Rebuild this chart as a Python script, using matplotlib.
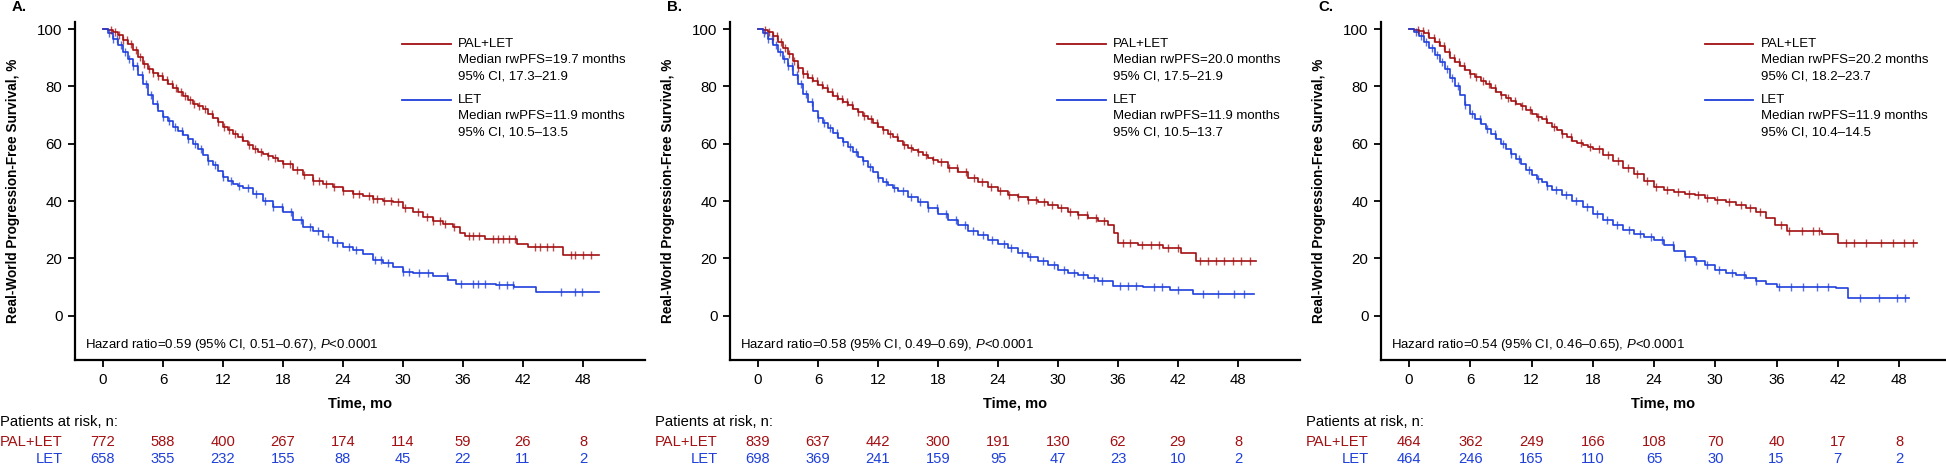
import numpy as np
import matplotlib
matplotlib.use("Agg")
import matplotlib.pyplot as plt
from matplotlib.transforms import blended_transform_factory

plt.rcParams['font.family'] = ['Liberation Sans', 'DejaVu Sans']
plt.rcParams['mathtext.fontset'] = 'custom'
plt.rcParams['mathtext.rm'] = 'Liberation Sans'
plt.rcParams['mathtext.it'] = 'Liberation Sans:italic'

RED = '#A30F12'
BLUE = '#1F3FDB'

risk_times = [0, 6, 12, 18, 24, 30, 36, 42, 48]
panel_labels = ['A.', 'B.', 'C.']

# ---- panel A ----
a_pal_t = [0, 0.5, 1, 1.5, 2, 2.5, 3, 3.5, 4, 4.5, 5, 5.5, 6, 6.5, 7, 7.5, 8, 8.5, 9, 9.5, 10, 10.5, 11,
           11.5, 12, 12.5, 13, 13.5, 14, 14.5, 15, 15.5, 16, 16.5, 17, 17.5, 18, 19, 20, 21, 22, 23, 24,
           25, 26, 27, 28, 29, 30, 31, 32, 33, 34, 35, 35.7, 36.2, 38.2, 41.4, 42.5, 46.0, 49.6]
a_pal_s = [100, 99.8, 99, 97.8, 96.3, 94.8, 92.8, 90.3, 87.8, 86, 84.8, 83.6, 82.4, 81, 79.5, 78, 76.6,
           75.2, 74, 73, 72, 70.5, 69, 67.5, 66, 64.8, 63.5, 62.2, 61, 59.5, 58, 57, 56.5, 55.7, 55, 54,
           53, 51, 49, 47, 46, 44.8, 43.5, 42.5, 41.8, 40.8, 40, 39.5, 37.7, 36, 34.5, 33.2, 32, 31, 29,
           27.8, 26.7, 25, 23.8, 21.2, 21.2]
a_pal_c = [0.8, 1.2, 1.6, 2.0, 2.4, 2.8, 3.3, 3.7, 4.1, 4.6, 5.0, 5.5, 5.9, 6.4, 6.9, 7.3, 7.8, 8.2, 8.7,
           9.1, 9.6, 10.2, 10.9, 11.5, 12.1, 12.6, 13.2, 13.9, 14.6, 15.2, 15.8, 16.5, 17.2, 18.0, 18.7,
           19.4, 20.1, 21.0, 21.6, 22.3, 23.1, 24.0, 25.0, 25.6, 26.6, 27.0, 27.4, 28.1, 28.8, 29.5, 30.2,
           31.5, 32.4, 33.0, 33.7, 34.2, 35.1, 36.6, 37.0, 37.6, 39.0, 39.5, 40.0, 40.6, 41.2, 43.2, 43.7,
           44.4, 45.0, 46.8, 47.2, 48.0, 48.8]
a_let_t = [0, 0.5, 1, 1.5, 2, 2.5, 3, 3.5, 4, 4.5, 5, 5.5, 6, 6.5, 7, 7.5, 8, 8.5, 9, 9.5, 10, 10.5, 11,
           11.5, 12, 12.5, 13, 13.5, 14, 15, 16, 17, 18, 19, 20, 21, 22, 23, 24, 25, 26, 27, 28, 29, 30,
           31, 33, 34.5, 35.3, 39.3, 41.1, 43.3, 49.6]
a_let_s = [100, 98.5, 96.5, 94.5, 92, 89.5, 87, 84, 81, 77, 74, 71.5, 69.5, 67.8, 66, 64.5, 63, 61.5, 60,
           58, 56, 54, 52.5, 50.5, 48.5, 47, 46, 45.2, 44.5, 42.5, 40, 38, 36, 33.5, 31, 29.5, 27.5, 25.5,
           24, 23, 21.5, 19.5, 18.5, 17, 15.2, 14.8, 13.9, 12.5, 11, 10.7, 10, 8.1, 8.1]
a_let_c = [0.6, 1.0, 1.4, 1.8, 2.2, 2.6, 3.0, 3.4, 3.9, 4.3, 4.8, 5.4, 6.0, 6.6, 7.2, 7.9, 8.5, 9.2, 9.8,
           10.5, 11.2, 12.0, 12.8, 13.6, 14.5, 15.3, 16.2, 17.0, 17.9, 18.8, 19.8, 20.7, 21.5, 22.5, 23.4,
           24.6, 25.3, 27.2, 27.8, 28.5, 30.0, 30.6, 31.6, 32.5, 34.4, 35.8, 37.0, 37.5, 38.2, 39.6, 40.4,
           41.0, 45.8, 47.2, 47.9]
a_risk_pal = [772, 588, 400, 267, 174, 114, 59, 26, 8]
a_risk_let = [658, 355, 232, 155, 88, 45, 22, 11, 2]
a_legend = ['PAL+LET', 'Median rwPFS=19.7 months', '95% CI, 17.3\u201321.9',
            'LET', 'Median rwPFS=11.9 months', '95% CI, 10.5\u201313.5']
a_hr = 'Hazard ratio=0.59 (95% CI, 0.51\u20130.67), $P$<0.0001'

# ---- panel B ----
b_pal_t = [0, 0.5, 1, 1.5, 2, 2.5, 3, 3.5, 4, 4.5, 5, 5.5, 6, 6.5, 7, 7.5, 8, 8.5, 9, 9.5, 10, 10.5, 11,
           11.5, 12, 12.5, 13, 13.5, 14, 14.5, 15, 15.5, 16, 16.5, 17, 17.5, 18, 19, 20, 21, 22, 23, 24,
           25, 26, 27, 28, 29, 30, 31, 32, 33, 34, 35, 35.6, 36.0, 38.0, 40.5, 42.3, 43.8, 49.8]
b_pal_s = [100, 99.7, 99, 97.5, 95.5, 93.5, 91.5, 89, 86.5, 84.5, 83, 81.8, 80.5, 79.3, 78, 76.8, 75.5,
           74.5, 73.5, 72.3, 71, 69.8, 68.5, 67.2, 66, 64.8, 63.5, 62.2, 61, 59.7, 58.5, 57.8, 57, 56, 55,
           54.2, 53.5, 51.5, 50, 48, 46.5, 45, 43.5, 42, 41.5, 40.5, 39.5, 38.5, 37.5, 36, 35, 34, 33,
           31.5, 29, 25.5, 24.5, 23.5, 22, 19, 19]
b_pal_c = [0.7, 1.1, 1.5, 1.9, 2.3, 2.7, 3.1, 3.6, 4.0, 4.5, 4.9, 5.4, 5.9, 6.4, 6.9, 7.4, 7.9, 8.4, 8.9,
           9.4, 10.0, 10.6, 11.3, 11.9, 12.5, 13.2, 13.9, 14.6, 15.3, 16.0, 16.8, 17.5, 18.3, 19.1, 19.9,
           20.8, 21.6, 22.4, 23.3, 24.2, 25.1, 26.0, 27.0, 27.8, 28.6, 29.4, 30.3, 31.2, 32.0, 32.9, 33.8,
           34.6, 36.5, 37.2, 38.4, 39.3, 40.1, 41.0, 42.0, 44.2, 45.0, 45.8, 46.6, 47.5, 48.3, 49.2]
b_let_t = [0, 0.5, 1, 1.5, 2, 2.5, 3, 3.5, 4, 4.5, 5, 5.5, 6, 6.5, 7, 7.5, 8, 8.5, 9, 9.5, 10, 10.5, 11,
           11.5, 12, 12.5, 13, 13.5, 14, 15, 16, 17, 18, 19, 20, 21, 22, 23, 24, 25, 26, 27, 28, 29, 30,
           31, 32, 33, 34, 35.5, 38.5, 41.2, 43.5, 49.6]
b_let_s = [100, 98.5, 96.5, 94.5, 92, 89.5, 87, 84, 81, 77.5, 74.5, 71.5, 69, 67.2, 65.5, 63.8, 62, 60.5,
           59, 57.2, 55.5, 53.8, 52, 50, 48, 46.7, 45.5, 44.5, 43.5, 41.5, 39.5, 37.5, 35.5, 33.5, 31.5,
           29.5, 28, 26.5, 25, 23.5, 22, 20.5, 19, 17.5, 16, 15, 14, 13, 12, 10.5, 10, 9, 7.5, 7.5]
b_let_c = [0.6, 1.0, 1.4, 1.8, 2.2, 2.6, 3.0, 3.4, 3.9, 4.3, 4.8, 5.4, 6.0, 6.6, 7.2, 7.9, 8.5, 9.2, 9.8,
           10.5, 11.2, 12.0, 12.8, 13.6, 14.5, 15.3, 16.2, 17.0, 17.9, 18.8, 19.8, 20.7, 21.5, 22.5, 23.4,
           24.6, 25.3, 26.4, 27.2, 28.5, 29.6, 30.6, 31.6, 32.5, 33.6, 34.4, 36.2, 37.0, 37.8, 39.6, 40.4,
           42.0, 44.5, 46.0, 47.6, 48.6]
b_risk_pal = [839, 637, 442, 300, 191, 130, 62, 29, 8]
b_risk_let = [698, 369, 241, 159, 95, 47, 23, 10, 2]
b_legend = ['PAL+LET', 'Median rwPFS=20.0 months', '95% CI, 17.5\u201321.9',
            'LET', 'Median rwPFS=11.9 months', '95% CI, 10.5\u201313.7']
b_hr = 'Hazard ratio=0.58 (95% CI, 0.49\u20130.69), $P$<0.0001'

# ---- panel C ----
c_pal_t = [0, 0.5, 1, 1.5, 2, 2.5, 3, 3.5, 4, 4.5, 5, 5.5, 6, 6.5, 7, 7.5, 8, 8.5, 9, 9.5, 10, 10.5, 11,
           11.5, 12, 12.5, 13, 13.5, 14, 14.5, 15, 15.5, 16, 16.5, 17, 17.5, 18, 19, 20, 21, 22, 23, 24,
           25, 26, 27, 28, 29, 30, 31, 32, 33, 34, 35, 35.8, 37.0, 40.5, 42.0, 49.8]
c_pal_s = [100, 99.8, 99.5, 98.5, 97, 95.5, 94, 92, 90, 88.5, 87, 85.8, 84.5, 83.2, 82, 80.8, 79.5, 78.2,
           77, 76, 75, 74, 73, 71.8, 70.5, 69.5, 68.5, 67.2, 66, 64.8, 63.5, 62.2, 61, 60.2, 59.5, 58.8,
           58, 56, 54, 51.5, 49.5, 47, 45, 44, 43, 42.5, 42, 41, 40.5, 39.5, 38.5, 37.5, 36, 34, 31.5,
           29.5, 28.5, 25.5, 25.5]
c_pal_c = [0.9, 1.4, 1.9, 2.4, 2.9, 3.4, 3.9, 4.4, 4.9, 5.4, 6.0, 6.6, 7.2, 7.8, 8.4, 9.0, 9.7, 10.4, 11.1,
           11.8, 12.6, 13.4, 14.2, 15.0, 15.9, 16.8, 17.7, 18.6, 19.5, 20.5, 21.4, 22.3, 23.3, 24.2, 25.3,
           26.3, 27.4, 28.3, 29.2, 30.2, 31.3, 32.5, 33.4, 34.4, 36.4, 37.2, 38.5, 39.6, 40.2, 42.8, 43.6,
           44.8, 46.2, 47.4, 48.5, 49.4]
c_let_t = [0, 0.5, 1, 1.5, 2, 2.5, 3, 3.5, 4, 4.5, 5, 5.5, 6, 6.5, 7, 7.5, 8, 8.5, 9, 9.5, 10, 10.5, 11,
           11.5, 12, 12.5, 13, 13.5, 14, 15, 16, 17, 18, 19, 20, 21, 22, 23, 24, 25, 26, 27, 28, 29, 30,
           31, 32, 33, 34, 35, 36, 41.8, 43.0, 49.0]
c_let_s = [100, 99, 97.5, 95.5, 93.5, 91, 88.5, 86, 83, 80, 77, 73.5, 70.5, 68.8, 67, 65.2, 63.5, 61.8,
           60, 58.2, 56.5, 54.8, 53, 51, 49, 47.8, 46.5, 45.2, 44, 42, 40, 38, 35.5, 33.5, 31.5, 30, 28.5,
           27.5, 26.5, 24.5, 22.5, 20.5, 19, 17.5, 16, 15, 14, 13, 12, 11, 10, 9.8, 6, 6]
c_let_c = [0.7, 1.2, 1.7, 2.2, 2.7, 3.2, 3.7, 4.2, 4.8, 5.5, 6.2, 6.9, 7.6, 8.4, 9.2, 10.0, 10.8, 11.7,
           12.6, 13.5, 14.4, 15.4, 16.4, 17.4, 18.4, 19.4, 20.4, 21.5, 22.6, 23.7, 24.8, 25.9, 27.0, 28.1,
           29.2, 30.4, 31.6, 32.8, 34.0, 36.2, 37.4, 38.6, 40.0, 41.0, 44.2, 46.0, 47.8, 48.6]
c_risk_pal = [464, 362, 249, 166, 108, 70, 40, 17, 8]
c_risk_let = [464, 246, 165, 110, 65, 30, 15, 7, 2]
c_legend = ['PAL+LET', 'Median rwPFS=20.2 months', '95% CI, 18.2\u201323.7',
            'LET', 'Median rwPFS=11.9 months', '95% CI, 10.4\u201314.5']
c_hr = 'Hazard ratio=0.54 (95% CI, 0.46\u20130.65), $P$<0.0001'

panels = [
    (a_pal_t, a_pal_s, a_pal_c, a_let_t, a_let_s, a_let_c, a_risk_pal, a_risk_let, a_legend, a_hr),
    (b_pal_t, b_pal_s, b_pal_c, b_let_t, b_let_s, b_let_c, b_risk_pal, b_risk_let, b_legend, b_hr),
    (c_pal_t, c_pal_s, c_pal_c, c_let_t, c_let_s, c_let_c, c_risk_pal, c_risk_let, c_legend, c_hr),
]

W, H = 1946, 465
fig = plt.figure(figsize=(W / 100, H / 100), dpi=100)

# axes boxes in pixels: left, right, xlim
boxes = [(75, 645, (-2.8, 54.2)), (730, 1300, (-2.8, 54.2)), (1381, 1946, (-2.75, 52.6))]
top_px, bot_px = 22, 360


def km(ax, t, s, cens, color):
    t = np.asarray(t)
    s = np.asarray(s)
    ax.step(t, s, where='post', color=color, lw=1.2, zorder=3)
    c = np.asarray(cens)
    idx = np.searchsorted(t, c, side='right') - 1
    ax.plot(c, s[idx], ls='none', marker='|', ms=6, mew=1.0, color=color, alpha=0.75, zorder=4)


for i, (pt, ps, pc, lt, ls_, lc, rp, rl, leg, hr) in enumerate(panels):
    left, right, xl = boxes[i]
    ax = fig.add_axes([left / W, 1 - bot_px / H, (right - left) / W, (bot_px - top_px) / H])
    km(ax, pt, ps, pc, RED)
    km(ax, lt, ls_, lc, BLUE)
    ax.set_xlim(*xl)
    ax.set_ylim(-15.5, 102.5)
    ax.set_xticks(risk_times)
    ax.set_yticks([0, 20, 40, 60, 80, 100])
    for sp in ['top', 'right']:
        ax.spines[sp].set_visible(False)
    for sp in ['left', 'bottom']:
        ax.spines[sp].set_linewidth(1.6)
    ax.tick_params(width=1.3, length=5, labelsize=10.8, pad=4)
    ax.set_ylabel('Real-World Progression-Free Survival, %', fontsize=9.8, fontweight='bold')
    ax.yaxis.set_label_coords((20 - 75) / 570, 0.5)

    # legend block
    for k, (col, yy) in enumerate([(RED, 0.935), (BLUE, 0.769)]):
        ax.plot([0.573, 0.659], [yy, yy], color=col, lw=1.3, transform=ax.transAxes)
        for j in range(3):
            ax.text(0.672, yy - j * 0.048, leg[3 * k + j], transform=ax.transAxes,
                    fontsize=9.5, va='center', ha='left')

    ax.text(0.018, 0.045, hr, transform=ax.transAxes, fontsize=9.5, va='center', ha='left')

    cx = (left + right) / 2
    fig.text(cx / W, 1 - 404 / H, 'Time, mo', fontsize=10.5, fontweight='bold', ha='center', va='center')

    # panel label and risk table
    x0 = left - 75 + 12
    fig.text(x0 / W, 1 - 7 / H, panel_labels[i], fontsize=10.8, fontweight='bold', ha='left', va='center')
    tr = blended_transform_factory(ax.transData, fig.transFigure)
    fig.text((left - 75) / W, 1 - 422 / H, 'Patients at risk, n:', fontsize=10.6, ha='left', va='center')
    fig.text((left - 75) / W, 1 - 442 / H, 'PAL+LET', fontsize=10.6, color=RED, ha='left', va='center')
    fig.text((left - 75 + 63) / W, 1 - 459 / H, 'LET', fontsize=10.6, color=BLUE, ha='right', va='center')
    for xt, n1, n2 in zip(risk_times, rp, rl):
        ax.text(xt, 1 - 442 / H, str(n1), transform=tr, fontsize=10.6, color=RED, ha='center', va='center')
        ax.text(xt, 1 - 459 / H, str(n2), transform=tr, fontsize=10.6, color=BLUE, ha='center', va='center')

fig.savefig('out.png', dpi=100)
